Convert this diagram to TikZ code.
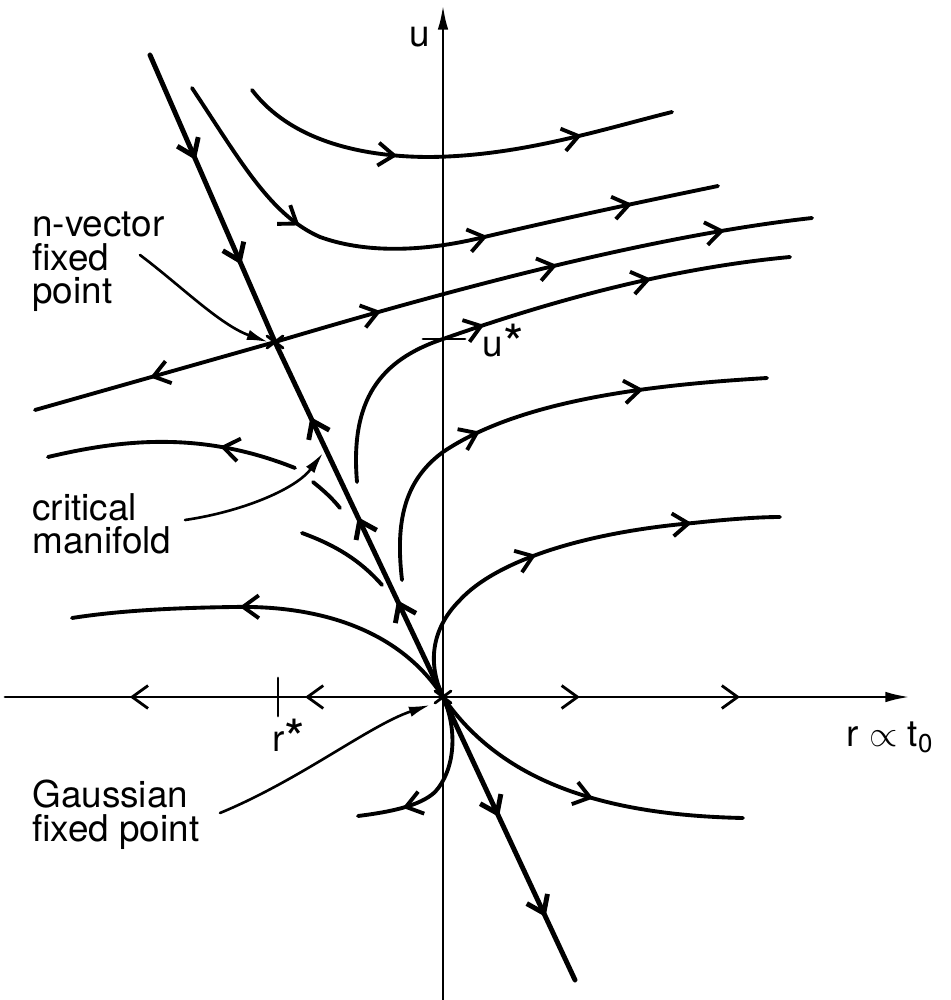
\documentclass[tikz,border=0pt]{standalone}
\usepackage{fontspec}
\setmainfont{TeX Gyre Heros}
\usetikzlibrary{arrows.meta,decorations.markings}

\tikzset{
  flow/.style={line width=2.2pt},
  manif/.style={line width=2.8pt},
  axis/.style={line width=1.6pt},
  pointer/.style={line width=1.5pt, -{Latex[length=12pt,width=6pt]}},
  lbl/.style={font=\fontsize{21}{19}\selectfont, align=left, inner sep=0pt},
  chev at/.style={postaction={decorate, decoration={markings,
      mark=at position #1 with {\arrow{Straight Barb[length=9pt,width=13pt]}}}}},
}
\newcommand{\fpstar}{\raisebox{-0.3ex}{\fontsize{30}{30}\selectfont *}}

\begin{document}
\begin{tikzpicture}[x=0.02cm, y=-0.02cm, line cap=round, line join=round]
    \useasboundingbox (0,0) rectangle (950,1000);

    % Fixed points and axis ends
    \coordinate (gfp) at (443,697);
    \coordinate (nfp) at (275,342);
    \coordinate (rleft) at (5,697);
    \coordinate (rright) at (910,697);
    \coordinate (ubot) at (443,1000);
    \coordinate (utop) at (443,5);

    % Axes
    \draw[axis, chev at=0.315, chev at=0.715] (gfp) -- (rleft);
    \draw[axis, -{Latex[length=14pt,width=6pt]}, chev at=0.293, chev at=0.636] (gfp) -- (rright);
    \draw[axis, -{Latex[length=14pt,width=6pt]}] (ubot) -- (utop);
    \node[lbl] (ulab) at (420,37) {u};
    \node[lbl] (rlab) at (890,737) {r $\propto$ t\textsubscript{0}};

    % Ticks r* and u*
    \draw[axis] (278,678) -- (278,716);
    \node[lbl] (rstar) at (289,738) {r\fpstar};
    \draw[axis] (423,339) -- (465,339);
    \node[lbl] (ustar) at (503,343) {u\fpstar};

    % Critical manifold line
    \draw[manif, chev at=0.366, chev at=0.73] (150,55) -- (nfp);
    \draw[manif, chev at=0.273, chev at=0.507, chev at=0.789] (gfp) -- (nfp);
    \draw[manif, chev at=0.424, chev at=0.777] (gfp) -- (575,980);

    % Flow through the n-vector fixed point
    \draw[flow, chev at=0.52] (nfp) -- (35,410);
    \draw[flow, chev at=0.2, chev at=0.53, chev at=0.84] (nfp) .. controls (450,290) and (650,236) .. (812,218);

    % Upper flows
    \draw[flow, chev at=0.37, chev at=0.79] (252,90) .. controls (290,140) and (360,157) .. (430,157) .. controls (520,156) and (600,130) .. (672,112);
    \draw[flow, chev at=0.29, chev at=0.61, chev at=0.855] (192,88) .. controls (240,160) and (270,215) .. (320,237) .. controls (370,255) and (430,250) .. (480,238) .. controls (560,219) and (650,200) .. (718,186);
    \draw[flow, chev at=0.42, chev at=0.74] (357,482) .. controls (350,400) and (380,360) .. (443,339) .. controls (520,312) and (650,270) .. (790,257);

    % Flows left of the manifold
    \draw[flow, chev at=0.31] (295,468) .. controls (200,430) and (120,440) .. (48,457);
    \draw[flow] (313,482) .. controls (323,490) and (332,498) .. (340,508);
    \draw[flow] (302,533) .. controls (335,545) and (360,560) .. (382,585);
    \draw[flow, chev at=0.58] (gfp) .. controls (400,630) and (320,605) .. (233,607) .. controls (160,608) and (110,612) .. (72,618);

    % Flows right of the axis
    \draw[flow, chev at=0.385, chev at=0.74] (402,580) .. controls (395,520) and (405,480) .. (443,452) .. controls (520,400) and (650,385) .. (767,378);
    \draw[flow, chev at=0.44, chev at=0.8] (gfp) .. controls (428,665) and (430,630) .. (460,600) .. controls (495,562) and (580,533) .. (693,523) .. controls (730,519) and (760,517) .. (780,517);
    \draw[flow, chev at=0.55] (gfp) .. controls (500,780) and (600,815) .. (743,818);
    \draw[flow, chev at=0.75] (gfp) .. controls (458,730) and (455,770) .. (435,792) .. controls (420,806) and (390,812) .. (358,816);

    % Stars at the fixed points
    \draw[axis] (nfp) ++(-8,-6) -- ++(16,12);
    \draw[axis] (nfp) ++(-8,6) -- ++(16,-12);
    \draw[axis] (gfp) ++(-8,-6) -- ++(16,12);
    \draw[axis] (gfp) ++(-8,6) -- ++(16,-12);

    % Labels with pointers
    \node[lbl, anchor=north west] (nvlab) at (32,212) {n-vector\\fixed\\point};
    \coordinate (nvtail) at (140,255);
    \coordinate (nvtip) at (268,342);
    \draw[pointer] (nvtail) .. controls (180,285) and (220,325) .. (nvtip);

    \node[lbl, anchor=north west] (cmlab) at (32,493) {critical\\manifold};
    \coordinate (cmtail) at (185,520);
    \coordinate (cmtip) at (323,453);
    \draw[pointer] (cmtail) .. controls (240,512) and (295,490) .. (cmtip);

    \node[lbl, anchor=north west] (gslab) at (32,780) {Gaussian\\fixed point};
    \coordinate (gstail) at (220,813);
    \coordinate (gstip) at (430,705);
    \draw[pointer] (gstail) .. controls (300,780) and (370,725) .. (gstip);
\end{tikzpicture}
\end{document}
